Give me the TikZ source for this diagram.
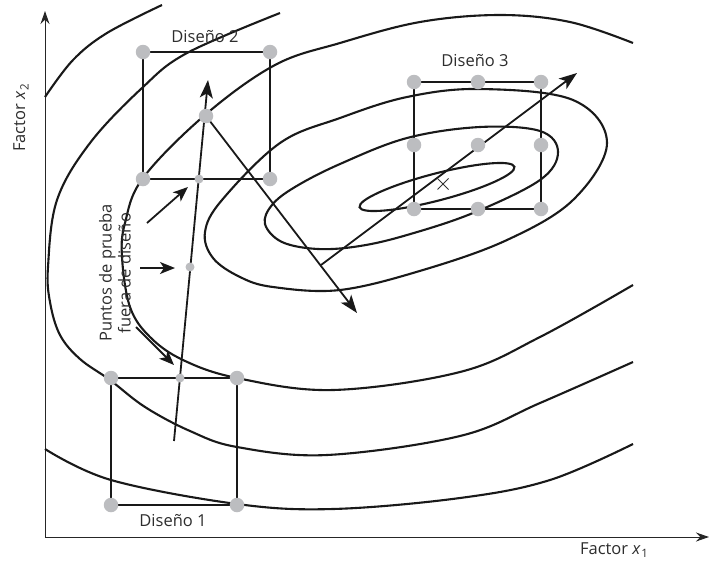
\documentclass[tikz,border=0pt]{standalone}
\usepackage{fontspec}
\setmainfont{Open Sans}
\usetikzlibrary{arrows.meta}
\definecolor{dotgray}{RGB}{188,189,192}
\definecolor{txt}{RGB}{45,45,45}
\newcommand{\subnum}[1]{\kern0.6pt\raisebox{-0.22em}{\fontsize{11.5}{12}\selectfont #1}}
\begin{document}
\begin{tikzpicture}[x=1pt,y=-1pt,
  contour/.style={line width=2.1pt, black!90},
  edge/.style={line width=2.1pt, black!90},
  axis/.style={line width=1pt, black!85, -{Stealth[length=13pt,width=9pt]}},
  bigarrow/.style={line width=1.8pt, black!90, -{Stealth[length=18pt,width=13pt,inset=4.5pt]}},
  pointer/.style={line width=1.8pt, black!90, -{Stealth[length=15pt,width=12pt,inset=4pt]}},
  bigdot/.style={circle, fill=dotgray, minimum size=14.5pt, inner sep=0pt},
  smalldot/.style={circle, fill=dotgray, minimum size=9pt, inner sep=0pt},
  lbl/.style={font=\fontsize{16.5}{19}\selectfont, text=txt, inner sep=0pt}
]
\useasboundingbox (0,0) rectangle (709,563);

% axes
\coordinate (O) at (45,537);
\coordinate (ytop) at (45,11);
\coordinate (xend) at (709,537);
\draw[axis] (O) -- (ytop);
\draw[axis] (O) -- (xend);

% contours
\draw[contour] plot[smooth, tension=0.6] coordinates {(45,97) (73,60) (107,33) (162,5)};
\draw[contour] plot[smooth, tension=0.6] coordinates {(45,449) (111,480) (237,504) (333,509) (460,498) (550,480) (633,444)};
\draw[contour] plot[smooth, tension=0.6] coordinates {(280,13) (187,53) (142,88) (90,143) (57,200) (48,267) (50,302) (60,335) (80,359) (110,380) (145,407) (190,431) (237,447) (327,455) (460,436) (540,403) (633,362)};
\draw[contour] plot[smooth, tension=0.6] coordinates {(633,43) (570,22) (500,15) (420,22) (340,43) (275,65) (205,115) (143,178) (125,223) (122,257) (130,307) (150,337) (183,360) (237,378) (333,390) (460,372) (540,337) (633,285)};
\draw[contour] plot[smooth cycle, tension=0.6] coordinates {(205,232) (222,200) (280,143) (340,118) (407,97) (480,89) (573,100) (607,143) (573,200) (507,240) (423,270) (340,290) (273,287) (240,277) (213,258)};
\draw[contour] plot[smooth cycle, tension=0.6] coordinates {(265,224) (272,205) (295,187) (340,164) (407,138) (480,127) (540,131) (558,152) (540,180) (473,213) (407,235) (360,246) (318,249) (282,242)};
\coordinate (c1c) at (437,187);
\draw[contour, rotate around={14.6:(c1c)}] (c1c) ellipse [x radius=80, y radius=13.5];

% design points
\coordinate (a1) at (111,378); \coordinate (b1) at (237,378);
\coordinate (c1) at (111,505); \coordinate (e1) at (237,505);
\coordinate (m1) at (180,378);
\coordinate (a2) at (143,52); \coordinate (b2) at (270,52);
\coordinate (c2) at (143,179); \coordinate (e2) at (270,179);
\coordinate (m2) at (199,179);
\coordinate (t2) at (206,116);
\coordinate (mid) at (190,267);
\coordinate (a3) at (414,82); \coordinate (b3) at (478,82); \coordinate (f3) at (541,82);
\coordinate (g3) at (414,145); \coordinate (h3) at (478,145); \coordinate (i3) at (541,145);
\coordinate (j3) at (414,209); \coordinate (k3) at (478,209); \coordinate (l3) at (541,209);

\draw[edge] (a1) -- (b1) -- (e1) -- (c1) -- cycle;
\draw[edge] (a2) -- (b2) -- (e2) -- (c2) -- cycle;
\draw[edge] (a3) -- (f3) -- (l3) -- (j3) -- cycle;

% path arrows
\coordinate (s1) at (174,441);
\coordinate (p1) at (208,80);
\coordinate (p2) at (357,313);
\coordinate (s3) at (321,265);
\coordinate (p3) at (577,73);
\draw[bigarrow] (s1) -- (p1);
\draw[bigarrow] (t2) -- (p2);
\draw[bigarrow] (s3) -- (p3);

% pointers
\coordinate (q1) at (147,223); \coordinate (r1) at (188,187);
\coordinate (q2) at (140,268); \coordinate (r2) at (175,268);
\coordinate (q3) at (136,327); \coordinate (r3) at (174,365);
\draw[pointer] (q1) -- (r1);
\draw[pointer] (q2) -- (r2);
\draw[pointer] (q3) -- (r3);

% optimum mark
\coordinate (xm) at (443,184);
\draw[line width=0.8pt, black!80] ([shift={(-5.5,-5.5)}]xm) -- ([shift={(5.5,5.5)}]xm)
  ([shift={(-5.5,5.5)}]xm) -- ([shift={(5.5,-5.5)}]xm);

% dots
\foreach \p in {a1,b1,c1,e1,a2,b2,c2,e2,t2,a3,b3,f3,g3,h3,i3,j3,k3,l3}
  \node[bigdot] (n\p) at (\p) {};
\foreach \p in {m1,m2,mid}
  \node[smalldot] (n\p) at (\p) {};

% labels
\node[lbl] (L1) at (173,521) {Diseño 1};
\node[lbl] (L2) at (205,37) {Diseño 2};
\node[lbl] (L3) at (475,61) {Diseño 3};
\node[lbl] (LX) at (614,550) {Factor \textit{x}\subnum{1}};
\node[lbl, rotate=90] (LY) at (21,118) {Factor \textit{x}\subnum{2}};
\node[lbl, rotate=90, align=center] (LP) at (115,273) {Puntos de prueba\\fuera de diseño};
\end{tikzpicture}
\end{document}
